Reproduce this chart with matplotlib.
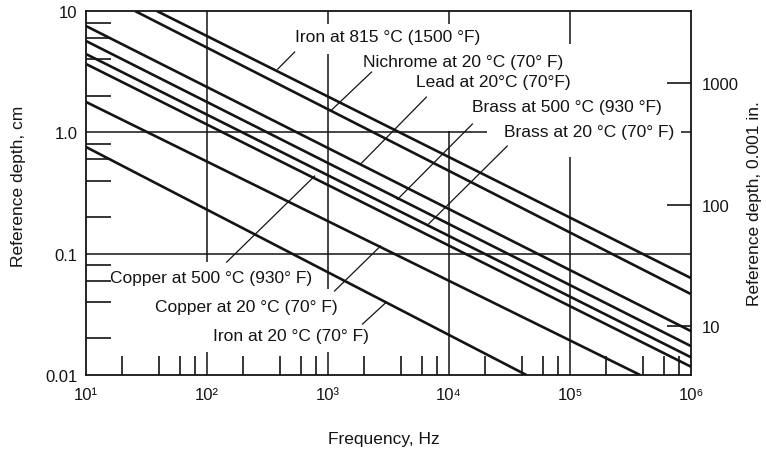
import matplotlib
matplotlib.use('Agg')
import matplotlib.pyplot as plt
from matplotlib.ticker import FixedLocator, FixedFormatter, LogLocator, NullLocator, NullFormatter

plt.rcParams['font.family'] = ['Liberation Sans', 'DejaVu Sans']

# line endpoints (frequency in Hz, reference depth in cm)
materials = ['Iron at 815 °C (1500 °F)', 'Nichrome at 20 °C (70° F)', 'Lead at 20°C (70°F)',
             'Brass at 500 °C (930 °F)', 'Brass at 20 °C (70° F)', 'Copper at 500 °C (930° F)',
             'Copper at 20 °C (70° F)', 'Iron at 20 °C (70° F)']
f_start = [38.5, 25.4, 10, 10, 10, 10, 10, 10]
d_start = [10, 10, 7.52, 5.66, 4.42, 3.66, 1.78, 0.757]
f_end = [1e6, 1e6, 1e6, 1e6, 1e6, 1e6, 3.8e5, 4.36e4]
d_end = [0.0629, 0.0464, 0.0230, 0.0173, 0.0140, 0.0117, 0.01, 0.01]

# label anchor (left, centre) and leader line ends, in data units
label_f = [530, 1930, 5380, 15600, 28600, 15.8, 37.1, 111.7]
label_d = [6.11, 3.87, 2.60, 1.62, 1.02, 0.0641, 0.0370, 0.0213]
lead_f0 = [530, 2290, 6500, 15600, 30300, 145.5, 1132, 1930]
lead_d0 = [4.59, 3.14, 1.95, 1.17, 0.771, 0.0853, 0.0492, 0.0263]
lead_f1 = [384, 1050, 1850, 3750, 6640, 775, 2718, 3040]
lead_d1 = [3.32, 1.50, 0.545, 0.28, 0.172, 0.436, 0.1156, 0.0399]

x_ticks = [1e1, 1e2, 1e3, 1e4, 1e5, 1e6]
x_labels = ['10¹', '10²', '10³', '10⁴', '10⁵', '10⁶']
y_ticks = [0.01, 0.1, 1.0, 10]
y_labels = ['0.01', '0.1', '1.0', '10']
mil_ticks = [10, 100, 1000]

ink = '#141414'
fig = plt.figure(figsize=(7.66, 4.56), dpi=100)
ax = fig.add_axes([86 / 766, 1 - 376 / 456, 605 / 766, 364 / 456])
ax.set_xscale('log')
ax.set_yscale('log')
ax.set_xlim(10, 1e6)
ax.set_ylim(0.01, 10)

for s in ax.spines.values():
    s.set_linewidth(1.3)
    s.set_color(ink)

# broken grid lines (gaps where labels sit)
gw = 1.1
ax.hlines(1.0, 10, 2.07e4, color=ink, lw=gw, zorder=1)
ax.hlines(1.0, 8.3e5, 1e6, color=ink, lw=gw, zorder=1)
ax.hlines(0.1, 10, 1e6, color=ink, lw=gw, zorder=1)
ax.vlines(1e2, 0.0853, 10, color=ink, lw=gw, zorder=1)
ax.vlines(1e2, 0.01, 0.01545, color=ink, lw=gw, zorder=1)
ax.vlines(1e3, 7.81, 10, color=ink, lw=gw, zorder=1)
ax.vlines(1e3, 0.051, 4.42, color=ink, lw=gw, zorder=1)
ax.vlines(1e3, 0.01, 0.01545, color=ink, lw=gw, zorder=1)
ax.vlines(1e4, 7.81, 10, color=ink, lw=gw, zorder=1)
ax.vlines(1e4, 0.01, 1.025, color=ink, lw=gw, zorder=1)
ax.vlines(1e5, 5.35, 10, color=ink, lw=gw, zorder=1)
ax.vlines(1e5, 0.01, 0.625, color=ink, lw=gw, zorder=1)

for i in range(len(materials)):
    ax.plot([f_start[i], f_end[i]], [d_start[i], d_end[i]], color=ink, lw=1.9,
            solid_capstyle='butt', zorder=3)
    ax.plot([lead_f0[i], lead_f1[i]], [lead_d0[i], lead_d1[i]], color=ink, lw=0.9, zorder=3)
    ax.text(label_f[i], label_d[i], materials[i], ha='left', va='center', fontsize=12.5,
            color=ink, zorder=4)

ax.xaxis.set_major_locator(FixedLocator(x_ticks))
ax.xaxis.set_major_formatter(FixedFormatter(x_labels))
ax.yaxis.set_major_locator(FixedLocator(y_ticks))
ax.yaxis.set_major_formatter(FixedFormatter(y_labels))
ax.xaxis.set_minor_locator(LogLocator(base=10, subs=[2, 4, 6, 8]))
ax.yaxis.set_minor_locator(LogLocator(base=10, subs=[2, 4, 6, 8]))
ax.xaxis.set_minor_formatter(NullFormatter())
ax.yaxis.set_minor_formatter(NullFormatter())
ax.tick_params(which='major', length=0, labelsize=12, labelcolor=ink)
ax.tick_params(axis='x', which='major', pad=9)
ax.tick_params(axis='y', which='major', pad=6)
ax.tick_params(axis='x', which='minor', direction='in', length=14, width=1.2, color=ink)
ax.tick_params(axis='y', which='minor', direction='in', length=18, width=1.2, color=ink)

ax2 = ax.twinx()
ax2.set_yscale('log')
ax2.set_ylim(0.01 / 0.00254, 10 / 0.00254)
ax2.yaxis.set_major_locator(FixedLocator(mil_ticks))
ax2.yaxis.set_major_formatter(FixedFormatter([str(t) for t in mil_ticks]))
ax2.yaxis.set_minor_locator(NullLocator())
ax2.tick_params(axis='y', direction='in', length=17, width=1.2, color=ink, pad=8,
                labelsize=12, labelcolor=ink)
for s in ax2.spines.values():
    s.set_visible(False)

fig.text(18.5 / 766, 1 - 186 / 456, 'Reference depth, cm', rotation=90, ha='center', va='center',
         fontsize=12.5, color=ink)
fig.text(384 / 766, 1 - 440 / 456, 'Frequency, Hz', ha='center', va='center', fontsize=12.5, color=ink)
fig.text(754 / 766, 1 - 204 / 456, 'Reference depth, 0.001 in.', rotation=90, ha='center',
         va='center', fontsize=12.5, color=ink)

fig.savefig('out.png', dpi=100)
